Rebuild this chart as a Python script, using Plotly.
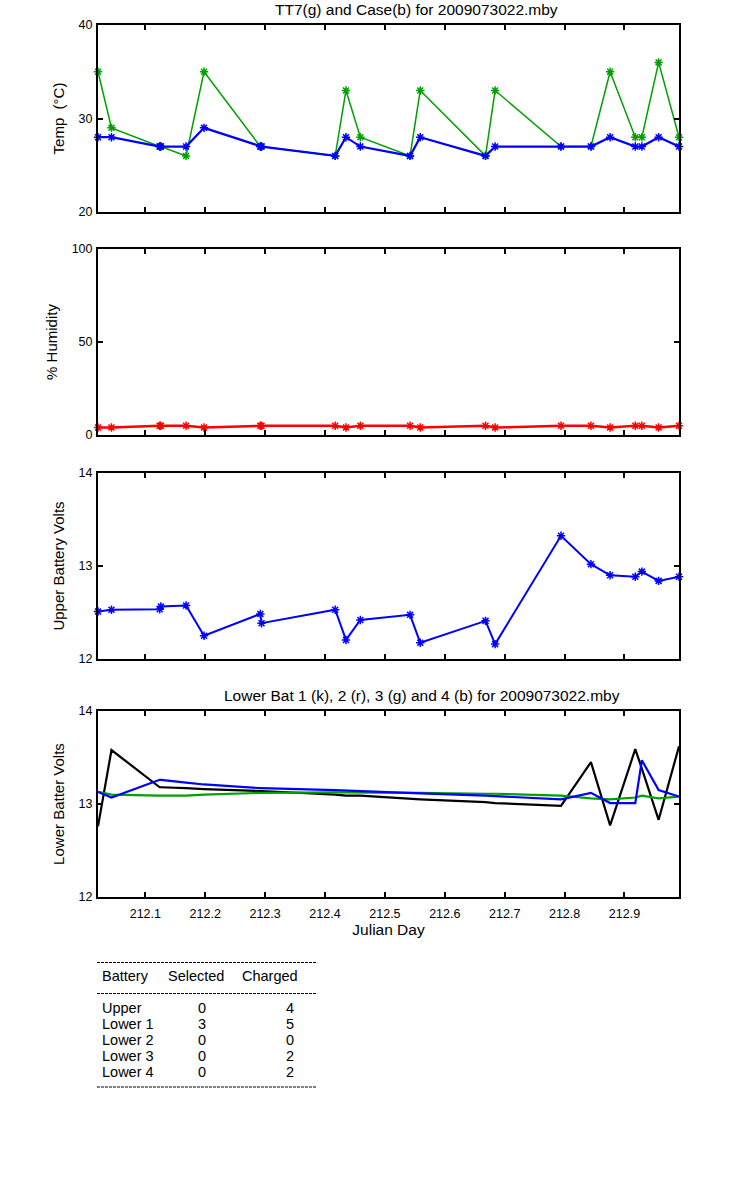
import plotly.graph_objects as go

# sample times shared by every panel (day of year)
julian_day = [212.021, 212.0435, 212.124, 212.126, 212.168, 212.198, 212.292, 212.294,
              212.417, 212.435, 212.459, 212.542, 212.559, 212.668, 212.684, 212.794,
              212.844, 212.876, 212.918, 212.929, 212.957, 212.991]

tt7_temp = [35, 29, 27, 27, 26, 35, 27, 27, 26, 33, 28, 26, 33, 26, 33, 27, 27, 35, 28, 28, 36, 28]
case_temp = [28, 28, 27, 27, 27, 29, 27, 27, 26, 28, 27, 26, 28, 26, 27, 27, 27, 28, 27, 27, 28, 27]

humidity = [4, 4, 5, 5, 5, 4, 5, 5, 5, 4, 5, 5, 4, 5, 4, 5, 5, 4, 5, 5, 4, 5]

upper_volts = [12.51, 12.53, 12.535, 12.565, 12.575, 12.25, 12.485, 12.385, 12.53, 12.205, 12.42,
               12.475, 12.175, 12.41, 12.16, 13.325, 13.02, 12.90, 12.885, 12.94, 12.84, 12.885]

lower_bat1 = [12.76, 13.58, 13.18, 13.18, 13.17, 13.16, 13.14, 13.14, 13.10, 13.09, 13.09,
              13.06, 13.05, 13.02, 13.01, 12.98, 13.45, 12.77, 13.59, 13.38, 12.83, 13.62]
lower_bat3 = [13.13, 13.10, 13.09, 13.09, 13.09, 13.10, 13.12, 13.12, 13.125, 13.125, 13.125,
              13.12, 13.12, 13.11, 13.11, 13.09, 13.06, 13.05, 13.07, 13.09, 13.06, 13.08]
lower_bat4 = [13.13, 13.07, 13.26, 13.26, 13.23, 13.21, 13.17, 13.17, 13.15, 13.145, 13.14,
              13.12, 13.115, 13.09, 13.085, 13.05, 13.12, 13.01, 13.01, 13.47, 13.15, 13.08]

battery_names = ['Upper', 'Lower 1', 'Lower 2', 'Lower 3', 'Lower 4']
selected_counts = [0, 3, 0, 0, 0]
charged_counts = [4, 5, 0, 2, 2]

FONT = 'Liberation Sans, Arial, sans-serif'
GREEN = 'rgb(0,160,0)'
BLUE = 'rgb(0,0,255)'
RED = 'rgb(255,0,0)'

# figure geometry in page pixels (body margin is removed below)
W, H = 750, 1200
LEFT, RIGHT, TOP, BOTTOM = 98, 679, 25, 897  # frame edges
ML, MR, MT, MB = LEFT, W - RIGHT, TOP, H - BOTTOM
PW = RIGHT - LEFT
PH = BOTTOM - TOP


def px_x(px):
    return (px - LEFT) / PW


def px_y(py):
    return (BOTTOM - py) / PH


def star_line(x, y, color, width, name):
    return go.Scatter(x=x, y=y, mode='lines+markers', name=name, cliponaxis=False,
                      line=dict(color=color, width=width),
                      marker=dict(symbol='asterisk-open', size=7, line=dict(color=color, width=1.5)))


fig = go.Figure()

fig.add_trace(star_line(julian_day, tt7_temp, GREEN, 1.5, 'TT7'))
fig.add_trace(star_line(julian_day, case_temp, BLUE, 2.2, 'Case'))

t = star_line(julian_day, humidity, RED, 2.5, 'Humidity')
t.update(xaxis='x2', yaxis='y2')
fig.add_trace(t)

t = star_line(julian_day, upper_volts, BLUE, 2, 'Upper')
t.update(xaxis='x3', yaxis='y3')
fig.add_trace(t)

for vals, color, name in [(lower_bat1, 'black', 'Lower 1'), (lower_bat3, GREEN, 'Lower 3'),
                          (lower_bat4, BLUE, 'Lower 4')]:
    fig.add_trace(go.Scatter(x=julian_day, y=vals, mode='lines', name=name, cliponaxis=False,
                             line=dict(color=color, width=2.2), xaxis='x4', yaxis='y4'))

axis_style = dict(
    showline=True, linecolor='black', linewidth=2, mirror='allticks',
    ticks='inside', ticklen=5, tickwidth=2, tickcolor='black',
    showgrid=False, zeroline=False, tickfont=dict(size=12.5, color='black'),
)

panels = [  # top/bottom pixel rows of each frame
    (25, 212, [20, 40], 10, 'Temp  (°C)'),
    (249, 435, [0, 100], 50, '% Humidity'),
    (473, 659, [12, 14], 1, 'Upper Battery Volts'),
    (711, 897, [12, 14], 1, 'Lower Batter Volts'),
]

layout = dict(
    width=W, height=H,
    margin=dict(l=ML, r=MR, t=MT, b=MB),
    paper_bgcolor='white', plot_bgcolor='white',
    font=dict(family=FONT, size=12, color='black'),
    showlegend=False,
)

for i, (top, bottom, yrange, dtick, ytitle) in enumerate(panels, start=1):
    suffix = '' if i == 1 else str(i)
    last = i == len(panels)
    layout['xaxis' + suffix] = dict(
        axis_style, domain=[0, 1], anchor='y' + suffix,
        range=[julian_day[0], julian_day[-1]], tick0=212, dtick=0.1,
        showticklabels=last, ticklabelstandoff=4,
        title=dict(text='Julian Day' if last else '', font=dict(size=15.5), standoff=4),
    )
    layout['yaxis' + suffix] = dict(
        axis_style, domain=[px_y(bottom), px_y(top)], anchor='x' + suffix,
        range=yrange, dtick=dtick, ticklabelstandoff=1,
        title=dict(text=ytitle, font=dict(size=15), standoff=10),
    )

fig.update_layout(layout)

annotations = [
    dict(text='TT7(g) and Case(b) for 2009073022.mby', x=px_x(416), y=px_y(9.5)),
    dict(text='Lower Bat 1 (k), 2 (r), 3 (g) and 4 (b) for 2009073022.mby', x=px_x(422), y=px_y(695)),
]
for a in annotations:
    fig.add_annotation(a, xref='paper', yref='paper', showarrow=False,
                       xanchor='center', yanchor='middle', font=dict(size=15.5))

# battery table under the plots
table_font = dict(size=14.5)
for text, px in [('Battery', 100), ('Selected', 166), ('Charged', 239.5)]:
    fig.add_annotation(text=text, x=px_x(px), y=px_y(976), xref='paper', yref='paper',
                       showarrow=False, xanchor='left', yanchor='middle', font=table_font)

for row, (name, sel, chg) in enumerate(zip(battery_names, selected_counts, charged_counts)):
    py = 1008 + 16 * row
    fig.add_annotation(text=name, x=px_x(100), y=px_y(py), xref='paper', yref='paper',
                       showarrow=False, xanchor='left', yanchor='middle', font=table_font)
    fig.add_annotation(text=str(sel), x=px_x(201.5), y=px_y(py), xref='paper', yref='paper',
                       showarrow=False, xanchor='center', yanchor='middle', font=table_font)
    fig.add_annotation(text=str(chg), x=px_x(290), y=px_y(py), xref='paper', yref='paper',
                       showarrow=False, xanchor='center', yanchor='middle', font=table_font)

for py in [962.5, 993.5, 1087]:
    fig.add_shape(type='line', xref='paper', yref='paper',
                  x0=px_x(97), x1=px_x(317), y0=px_y(py), y1=px_y(py),
                  line=dict(color='black', width=1, dash='3px,1px'))

fig.write_html('out.html', config={'displayModeBar': False},
               post_script="document.body.style.margin = '0';")
